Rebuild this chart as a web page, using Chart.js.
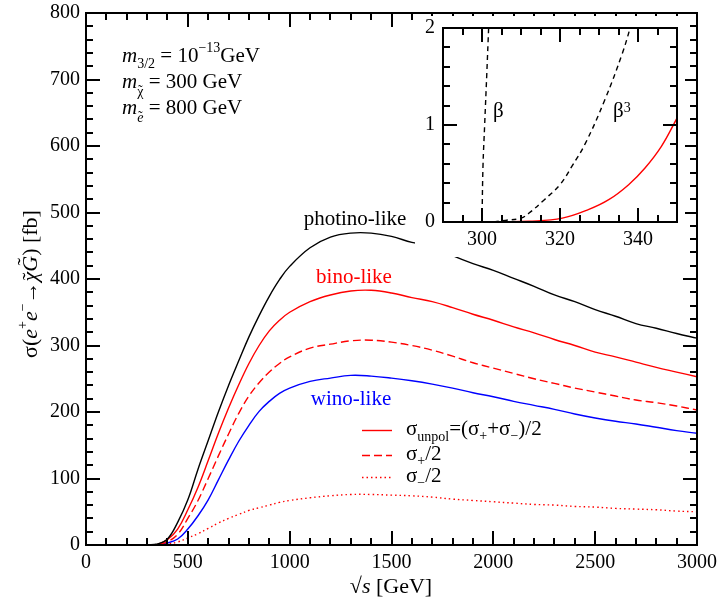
<!DOCTYPE html>
<html>
<head>
<meta charset="utf-8">
<script src="https://cdn.jsdelivr.net/npm/chart.js@4.4.0/dist/chart.umd.min.js"></script>
<style>
  html, body { margin: 0; padding: 0; background: #fff; }
  #wrap { position: relative; width: 721px; height: 604px; }
  #main { position: absolute; left: 0; top: 0; }
  #inset { position: absolute; left: 415px; top: 16px; }
</style>
</head>
<body>
<div id="wrap">
  <canvas id="main" width="721" height="604"></canvas>
  <canvas id="inset" width="270" height="241"></canvas>
</div>
<script>
// ---- cross sections sigma(e+e- -> chi G) in fb versus sqrt(s) in GeV ----
const sqrtS         = [300, 350, 400, 450, 500, 550, 600, 650, 700, 750, 800, 850, 900, 950, 1000, 1100, 1200, 1300, 1400, 1500, 1600, 1700, 1800, 1900, 2000, 2100, 2200, 2300, 2400, 2500, 2600, 2700, 2800, 2900, 3000];
const photinoLike   = [0, 1.5, 9, 34, 68, 114, 157, 200, 240, 277, 313, 345, 374, 399, 419, 447, 463, 469, 469, 464, 455, 449, 435, 423, 413, 401, 389, 376, 366, 354, 344, 333, 326, 318, 311];
const binoUnpol     = [0, 1, 8, 24, 53, 87, 127, 168, 206, 241, 273, 300, 322, 338, 350, 366, 376, 382, 383, 379, 372, 366, 357, 347, 338, 328, 319, 309, 300, 290, 283, 275, 267, 260, 253];
const binoPlusHalf  = [0, 0.7, 5, 16, 40, 67, 100, 134, 167, 198, 224, 244, 260, 273, 283, 296, 302, 307, 308, 305, 300, 293, 284, 274, 266, 258, 250, 243, 236, 230, 224, 218, 214, 209, 203];
const binoMinusHalf = [0, 0.2, 1.5, 4.5, 10.5, 17, 25, 33, 40, 46, 52, 56, 60, 64, 67, 71, 74, 76, 76, 75, 74, 72, 69, 67, 65, 63, 61, 60, 58, 57, 55, 54, 53, 51, 50];
const winoLike      = [0, 0.5, 3, 9, 24, 44, 68, 98, 128, 156, 180, 201, 216, 228, 236, 246, 251, 255, 254, 251, 247, 242, 236, 229, 223, 216, 210, 204, 197, 191, 186, 182, 177, 172, 168];

// ---- threshold region (inset) ----
const betaX   = [300, 300.25, 300.68, 301.2, 301.7];
const betaY   = [0, 0.57, 1.0, 1.5, 2.0];
const beta3X  = [303, 306, 310, 312, 316, 320, 323, 326.5, 331.5, 336, 338];
const beta3Y  = [0, 0.017, 0.04, 0.09, 0.23, 0.385, 0.57, 0.81, 1.26, 1.74, 2.0];
const sigmaX  = [301, 305, 312, 320.6, 327.4, 332.5, 337.6, 341.8, 346, 350];
const sigmaY  = [0, 0.002, 0.007, 0.04, 0.13, 0.23, 0.385, 0.557, 0.78, 1.07];

// ---- axis ticks (labelled, plus the short unlabelled ones) ----
const xTicks      = [0, 500, 1000, 1500, 2000, 2500, 3000];
const yTicks      = [0, 100, 200, 300, 400, 500, 600, 700, 800];
const xMinorTicks = [];
for (let v = 0; v <= 3000; v += 100) xMinorTicks.push(v);
const yMinorTicks = [];
for (let v = 0; v <= 800; v += 20) yMinorTicks.push(v);
const insetXTicks = [300, 320, 340];
const insetYTicks = [0, 1, 2];
const insetXMinor = [];
for (let v = 290; v <= 350; v += 5) insetXMinor.push(v);
const insetYMinor = [];
for (let k = 0; k <= 10; k++) insetYMinor.push(k / 5);

const SERIF = '"Liberation Serif", "Times New Roman", Times, serif';
const RED = '#ff0000', BLUE = '#0000ff', BLACK = '#000000';

function pts(xs, ys) { return xs.map((x, i) => ({ x: x, y: ys[i] })); }
function fnt(size, italic) { return (italic ? 'italic ' : '') + size + 'px ' + SERIF; }

// draws a run of text pieces with their own size, slant and baseline shift
function drawRich(ctx, parts, x, y, align) {
  let w = 0;
  for (const p of parts) { ctx.font = fnt(p.s || 21, p.i); w += ctx.measureText(p.t).width; }
  let cx = align === 'center' ? x - w / 2 : (align === 'right' ? x - w : x);
  ctx.textAlign = 'left';
  ctx.textBaseline = 'alphabetic';
  for (const p of parts) {
    const size = p.s || 21;
    ctx.font = fnt(size, p.i);
    const pw = ctx.measureText(p.t).width;
    ctx.fillText(p.t, cx, y + (p.dy || 0));
    if (p.tilde !== undefined) {
      ctx.font = fnt(size, false);
      const tw = ctx.measureText('\u02DC').width;
      ctx.fillText('\u02DC', cx + pw / 2 - tw / 2 + (p.tx || 0), y + (p.dy || 0) - p.tilde);
    }
    cx += pw;
  }
}

// box round the plot area with inward ticks on all four sides, placed through the scales
function drawFrame(chart, xs, xl, ys, yl) {
  const ctx = chart.ctx;
  const a = chart.chartArea;
  const sx = chart.scales.x, sy = chart.scales.y;
  const L = Math.round(a.left), R = Math.round(a.right), T = Math.round(a.top), B = Math.round(a.bottom);
  ctx.save();
  ctx.setLineDash([]);
  ctx.globalAlpha = 1;
  ctx.globalCompositeOperation = 'source-over';
  ctx.fillStyle = BLACK;
  for (const v of xs) {
    const len = xl.indexOf(v) >= 0 ? 14 : 7;
    const px = Math.round(sx.getPixelForValue(v));
    ctx.fillRect(px - 1, B - len, 2, len);
    ctx.fillRect(px - 1, T, 2, len);
  }
  for (const v of ys) {
    const len = yl.some(t => Math.abs(t - v) < 1e-9) ? 14 : 7;
    const py = Math.round(sy.getPixelForValue(v));
    ctx.fillRect(L, py - 1, len, 2);
    ctx.fillRect(R - len, py - 1, len, 2);
  }
  ctx.fillRect(L - 1, T - 1, R - L + 2, 2);
  ctx.fillRect(L - 1, B - 1, R - L + 2, 2);
  ctx.fillRect(L - 1, T - 1, 2, B - T + 2);
  ctx.fillRect(R - 1, T - 1, 2, B - T + 2);
  ctx.restore();
}

// frame, titles, curve names, parameter block and line key of the main panel
const mainDecor = {
  id: 'mainDecor',
  afterDraw(chart) {
    const ctx = chart.ctx;
    ctx.save();
    ctx.fillStyle = BLACK;
    // y title, reading upward
    ctx.save();
    ctx.translate(37, 284);
    ctx.rotate(-Math.PI / 2);
    drawRich(ctx, [
      { t: '\u03C3(', s: 22 }, { t: 'e', s: 22, i: true }, { t: '+', s: 14, dy: -10 },
      { t: 'e', s: 22, i: true }, { t: '\u2212', s: 14, dy: -10 }, { t: '\u2192', s: 22 },
      { t: '\u03C7', s: 22, i: true, tilde: 0 }, { t: 'G', s: 22, i: true, tilde: 5, tx: 2 },
      { t: ') [fb]', s: 22 }
    ], 0, 0, 'center');
    ctx.restore();
    // x title
    drawRich(ctx, [{ t: '\u221A', s: 22 }, { t: 's', s: 22, i: true }, { t: ' [GeV]', s: 22 }], 391, 593, 'center');

    // parameters
    drawRich(ctx, [{ t: 'm', i: true }, { t: '3/2', s: 14, dy: 6 }, { t: ' = 10' }, { t: '\u221213', s: 14, dy: -10 }, { t: 'GeV' }], 122, 62, 'left');
    drawRich(ctx, [{ t: 'm', i: true }, { t: '\u03C7', s: 14, dy: 8, tilde: 1 }, { t: ' = 300 GeV' }], 122, 88, 'left');
    drawRich(ctx, [{ t: 'm', i: true }, { t: 'e', s: 14, i: true, dy: 8, tilde: 1 }, { t: ' = 800 GeV' }], 122, 114, 'left');

    // curve names
    ctx.fillStyle = BLACK;
    drawRich(ctx, [{ t: 'photino-like' }], 355, 225, 'center');
    ctx.fillStyle = RED;
    drawRich(ctx, [{ t: 'bino-like' }], 354, 283, 'center');
    ctx.fillStyle = BLUE;
    drawRich(ctx, [{ t: 'wino-like' }], 351, 405, 'center');

    // line key
    const key = [
      { y: 430, dash: [], parts: [{ t: '\u03C3' }, { t: 'unpol', s: 14, dy: 6 }, { t: '=(\u03C3' }, { t: '+', s: 14, dy: 5 }, { t: '+\u03C3' }, { t: '\u2212', s: 14, dy: 5 }, { t: ')/2' }], base: 435 },
      { y: 455, dash: [8, 4], parts: [{ t: '\u03C3' }, { t: '+', s: 14, dy: 5 }, { t: '/2' }], base: 460 },
      { y: 477, dash: [1.5, 3], parts: [{ t: '\u03C3' }, { t: '\u2212', s: 14, dy: 5 }, { t: '/2' }], base: 482 }
    ];
    for (const k of key) {
      ctx.strokeStyle = RED;
      ctx.lineWidth = 1.4;
      ctx.setLineDash(k.dash);
      ctx.beginPath();
      ctx.moveTo(362, k.y + 0.5); ctx.lineTo(392, k.y + 0.5);
      ctx.stroke();
      ctx.setLineDash([]);
      ctx.fillStyle = BLACK;
      drawRich(ctx, k.parts, 406, k.base, 'left');
    }
    ctx.restore();
    drawFrame(chart, xMinorTicks, xTicks, yMinorTicks, yTicks);
  }
};

const insetDecor = {
  id: 'insetDecor',
  beforeDraw(chart) {
    const c = chart.ctx;
    c.save(); c.fillStyle = '#fff'; c.fillRect(0, 0, chart.width, chart.height); c.restore();
  },
  afterDraw(chart) {
    const ctx = chart.ctx;
    ctx.save();
    ctx.fillStyle = BLACK;
    drawRich(ctx, [{ t: '\u03B2' }], 78, 101, 'left');
    drawRich(ctx, [{ t: '\u03B2' }, { t: '3', s: 14, dy: -5 }], 198, 101, 'left');
    ctx.restore();
    drawFrame(chart, insetXMinor, insetXTicks, insetYMinor, insetYTicks);
  }
};

const line = (label, data, color, dash) => ({
  label: label, data: data, borderColor: color, borderWidth: 1.4, borderDash: dash || [],
  pointRadius: 0, fill: false, tension: 0.4
});

const tickFont = { family: SERIF, size: 20 };
// drop the extra room Chart.js reserves for half of the end labels
const noEndRoomX = s => { s.paddingLeft = 0; s.paddingRight = 0; };
const noEndRoomY = s => { s.paddingTop = 0; s.paddingBottom = 0; };

new Chart(document.getElementById('main'), {
  type: 'line',
  data: {
    datasets: [
      line('photino-like', pts(sqrtS, photinoLike), BLACK),
      line('bino-like', pts(sqrtS, binoUnpol), RED),
      line('sigma+/2', pts(sqrtS, binoPlusHalf), RED, [8, 4]),
      line('sigma-/2', pts(sqrtS, binoMinusHalf), RED, [1.5, 3]),
      line('wino-like', pts(sqrtS, winoLike), BLUE)
    ]
  },
  options: {
    responsive: false, animation: false, devicePixelRatio: 1,
    layout: { autoPadding: false, padding: { top: 13, right: 24, left: 0, bottom: 0 } },
    plugins: { legend: { display: false }, tooltip: { enabled: false } },
    scales: {
      x: {
        type: 'linear', min: 0, max: 3000,
        afterFit: s => { s.height = 59; noEndRoomX(s); },
        afterBuildTicks: s => { s.ticks = xTicks.map(v => ({ value: v })); },
        grid: { display: false, drawTicks: false }, border: { display: false },
        ticks: { font: tickFont, color: BLACK, padding: 6, maxRotation: 0, autoSkip: false, callback: v => String(v) }
      },
      y: {
        type: 'linear', min: 0, max: 800,
        afterFit: s => { s.width = 86; noEndRoomY(s); },
        afterBuildTicks: s => { s.ticks = yTicks.map(v => ({ value: v })); },
        grid: { display: false, drawTicks: false }, border: { display: false },
        ticks: { font: tickFont, color: BLACK, padding: 6, autoSkip: false, callback: v => String(v) }
      }
    }
  },
  plugins: [mainDecor]
});

new Chart(document.getElementById('inset'), {
  type: 'line',
  data: {
    datasets: [
      line('beta', pts(betaX, betaY), BLACK, [5, 4]),
      line('beta^3', pts(beta3X, beta3Y), BLACK, [5, 4]),
      line('sigma unpol', pts(sigmaX, sigmaY), RED)
    ]
  },
  options: {
    responsive: false, animation: false, devicePixelRatio: 1,
    layout: { autoPadding: false, padding: { top: 12, right: 8, left: 0, bottom: 0 } },
    plugins: { legend: { display: false }, tooltip: { enabled: false } },
    scales: {
      x: {
        type: 'linear', min: 290, max: 350,
        afterFit: s => { s.height = 35; noEndRoomX(s); },
        afterBuildTicks: s => { s.ticks = insetXTicks.map(v => ({ value: v })); },
        grid: { display: false, drawTicks: false }, border: { display: false },
        ticks: { font: tickFont, color: BLACK, padding: 6, maxRotation: 0, autoSkip: false, callback: v => String(v) }
      },
      y: {
        type: 'linear', min: 0, max: 2,
        afterFit: s => { s.width = 28; noEndRoomY(s); },
        afterBuildTicks: s => { s.ticks = insetYTicks.map(v => ({ value: v })); },
        grid: { display: false, drawTicks: false }, border: { display: false },
        ticks: { font: tickFont, color: BLACK, padding: 8, autoSkip: false, callback: v => String(v) }
      }
    }
  },
  plugins: [insetDecor]
});
</script>
</body>
</html>
